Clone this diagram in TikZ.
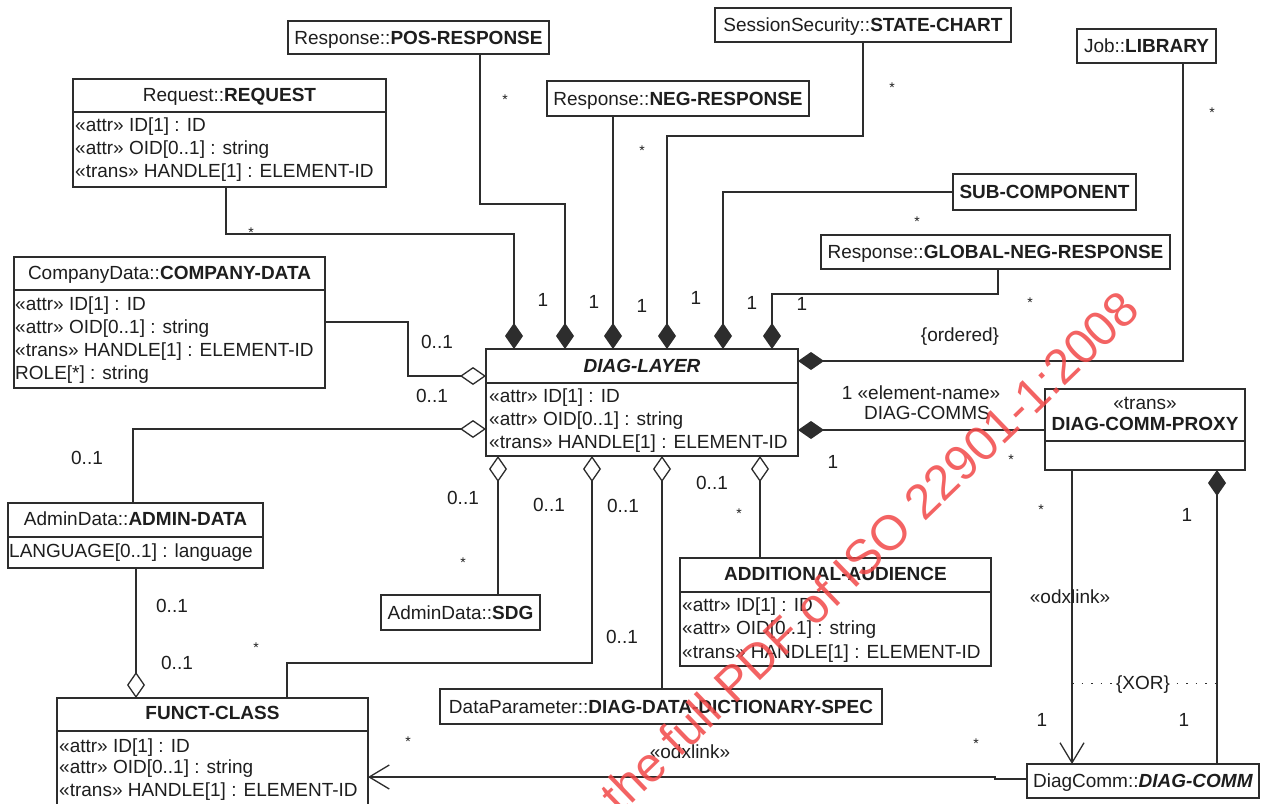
\documentclass[tikz,border=0pt]{standalone}
\usepackage{fontspec}
\setmainfont{Liberation Sans}
\usetikzlibrary{arrows.meta}
\definecolor{tc}{RGB}{30,30,30}
\definecolor{lc}{RGB}{45,45,45}
\definecolor{wmred}{RGB}{242,72,72}
\begin{document}
\begin{tikzpicture}[x=1pt,y=-1pt,
  txt/.style={inner sep=0pt, text height=13.6pt, text depth=0pt, text=tc, font=\fontsize{19}{23}\selectfont},
  cls/.style={draw=lc, line width=1.4pt, fill=white, anchor=north west, inner sep=0pt, outer sep=0pt, txt},
  attr/.style={txt, anchor=west},
  conn/.style={draw=lc, line width=1.3pt},
  comp/.style={conn, -{Diamond[length=26pt,width=18pt]}},
  aggr/.style={conn, -{Diamond[open,length=26pt,width=18pt]}},
  nav/.style={conn, -{Straight Barb[length=20pt,width=24pt]}},
  star/.style={txt, font=\fontsize{14}{14}\selectfont, yshift=-0.5pt},
  divider/.style={draw=lc, line width=1.4pt},
]
\useasboundingbox (0,0) rectangle (1263,803);
\clip (0,0) rectangle (1263,803);
\fill[white] (0,0) rectangle (1263,803);

% ---------- boxes ----------
\node[cls, minimum width=261pt, minimum height=33pt] (POS) at (288,21) {Response::\textbf{POS-RESPONSE}};
\node[cls, minimum width=262pt, minimum height=35pt] (NEG) at (547,81) {Response::\textbf{NEG-RESPONSE}};
\node[cls, minimum width=296pt, minimum height=34pt] (SC) at (715,8) {SessionSecurity::\textbf{STATE-CHART}};
\node[cls, minimum width=139pt, minimum height=34pt] (LIB) at (1077,29) {Job::\textbf{LIBRARY}};
\node[cls, minimum width=183pt, minimum height=36pt] (SUB) at (953,174) {\textbf{SUB-COMPONENT}};
\node[cls, minimum width=349pt, minimum height=34pt] (GNR) at (821,235) {Response::\textbf{GLOBAL-NEG-RESPONSE}};
\node[cls, minimum width=159pt, minimum height=35pt] (SDG) at (381,595) {AdminData::\textbf{SDG}};
\node[cls, minimum width=442pt, minimum height=35pt] (DDDS) at (440,689) {DataParameter::\textbf{DIAG-DATA-DICTIONARY-SPEC}};
\node[cls, minimum width=232pt, minimum height=34pt] (DC) at (1027,764) {DiagComm::\textbf{\textit{DIAG-COMM}}};

% REQUEST
\node[cls, minimum width=313pt, minimum height=108pt] (REQ) at (73,79) {};
\draw[divider] (73,112) -- (386,112);
\node[txt] (REQt) at (229.5,95) {Request::\textbf{REQUEST}};
\node[attr] (REQa1) at (75,125) {«attr» ID[1] : ID};
\node[attr] (REQa2) at (75,148) {«attr» OID[0..1] : string};
\node[attr] (REQa3) at (75,171) {«trans» HANDLE[1] : ELEMENT-ID};

% COMPANY-DATA
\node[cls, minimum width=311pt, minimum height=131pt] (CD) at (14,257) {};
\draw[divider] (14,290) -- (325,290);
\node[txt] (CDt) at (169.5,273) {CompanyData::\textbf{COMPANY-DATA}};
\node[attr] (CDa1) at (15,304) {«attr» ID[1] : ID};
\node[attr] (CDa2) at (15,327) {«attr» OID[0..1] : string};
\node[attr] (CDa3) at (15,350) {«trans» HANDLE[1] : ELEMENT-ID};
\node[attr] (CDa4) at (15,373) {ROLE[*] : string};

% DIAG-LAYER
\node[cls, minimum width=312pt, minimum height=107pt] (DL) at (486,349) {};
\draw[divider] (486,383) -- (798,383);
\node[txt] (DLt) at (642,366) {\textbf{\textit{DIAG-LAYER}}};
\node[attr] (DLa1) at (489,396) {«attr» ID[1] : ID};
\node[attr] (DLa2) at (489,419) {«attr» OID[0..1] : string};
\node[attr] (DLa3) at (489,442) {«trans» HANDLE[1] : ELEMENT-ID};

% DIAG-COMM-PROXY
\node[cls, minimum width=200pt, minimum height=81pt] (PX) at (1045,389) {};
\draw[divider] (1045,441) -- (1245,441);
\node[txt] (PXs) at (1145,403) {«trans»};
\node[txt] (PXt) at (1145,424) {\textbf{DIAG-COMM-PROXY}};

% ADMIN-DATA
\node[cls, minimum width=255pt, minimum height=65pt] (AD) at (8,503) {};
\draw[divider] (8,537) -- (263,537);
\node[txt] (ADt) at (135.5,519) {AdminData::\textbf{ADMIN-DATA}};
\node[attr] (ADa1) at (9,551) {LANGUAGE[0..1] : language};

% ADDITIONAL-AUDIENCE
\node[cls, minimum width=311pt, minimum height=108pt] (AA) at (680,558) {};
\draw[divider] (680,592) -- (991,592);
\node[txt] (AAt) at (835.5,574) {\textbf{ADDITIONAL-AUDIENCE}};
\node[attr] (AAa1) at (682,605) {«attr» ID[1] : ID};
\node[attr] (AAa2) at (682,628) {«attr» OID[0..1] : string};
\node[attr] (AAa3) at (682,652) {«trans» HANDLE[1] : ELEMENT-ID};

% FUNCT-CLASS
\node[cls, minimum width=311pt, minimum height=125pt] (FC) at (57,698) {};
\draw[divider] (57,731) -- (368,731);
\node[txt] (FCt) at (212.5,713) {\textbf{FUNCT-CLASS}};
\node[attr] (FCa1) at (59,746) {«attr» ID[1] : ID};
\node[attr] (FCa2) at (59,767) {«attr» OID[0..1] : string};
\node[attr] (FCa3) at (59,790) {«trans» HANDLE[1] : ELEMENT-ID};

% ---------- connectors: compositions on top of DIAG-LAYER ----------
\draw[comp] (REQ.south -| 226,0) -- (226,234) -- (514,234) -- (DL.north -| 514,0);
\draw[comp] (POS.south -| 480,0) -- (480,204) -- (565,204) -- (DL.north -| 565,0);
\draw[comp] (NEG.south -| 613,0) -- (DL.north -| 613,0);
\draw[comp] (SC.south -| 863,0) -- (863,136) -- (667,136) -- (DL.north -| 667,0);
\draw[comp] (SUB.west |- 0,192) -- (723,192) -- (DL.north -| 723,0);
\draw[comp] (GNR.south -| 998,0) -- (998,294) -- (772,294) -- (DL.north -| 772,0);
\draw[comp] (LIB.south -| 1183,0) -- (1183,361) -- (DL.east |- 0,361);
\draw[comp] (PX.west |- 0,430) -- (DL.east |- 0,430);

% aggregations
\draw[aggr] (CD.east |- 0,322) -- (408,322) -- (408,376) -- (DL.west |- 0,376);
\draw[aggr] (AD.north -| 133,0) -- (133,429) -- (DL.west |- 0,429);
\draw[aggr] (SDG.north -| 498,0) -- (DL.south -| 498,0);
\draw[aggr] (FC.north -| 287,0) -- (287,663) -- (592,663) -- (DL.south -| 592,0);
\draw[aggr] (DDDS.north -| 662,0) -- (DL.south -| 662,0);
\draw[aggr] (AA.north -| 760,0) -- (DL.south -| 760,0);
\draw[aggr] (AD.south -| 136,0) -- (FC.north -| 136,0);

% proxy <-> diag-comm
\draw[nav] (PX.south -| 1072,0) -- (DC.north -| 1072,0);
\draw[comp] (DC.north -| 1217,0) -- (PX.south -| 1217,0);
\draw[nav] (DC.west |- 0,779) -- (995,779) -- (995,777) -- (FC.east |- 0,777);

% XOR constraint
\draw[lc, line width=1pt, dash pattern=on 1.5pt off 8pt] (1072,683) -- (1217,683);
\node[txt, fill=white, inner xsep=2pt] (xor) at (1143,683) {\{XOR\}};

% ---------- labels ----------
\foreach \x/\y in {251/230, 505/97, 642/148, 892/85, 917/219, 1030/300, 1212/110, 1011/457, 1041/507, 463/560, 256/645, 739/511, 976/741, 408/739}
  \node[star] at (\x,\y) {*};
\foreach \x/\y in {543/300, 594/302, 642/306, 696/298, 752/303, 802/304, 833/462, 1187/515, 1042/720, 1184/720}
  \node[txt] at (\x,\y) {1};
\foreach \x/\y in {437/342, 432/396, 87/458, 463/498, 549/505, 623/506, 712/483, 622/637, 172/606, 177/663}
  \node[txt] at (\x,\y) {0..1};
\node[txt] (ord) at (960,335) {\{ordered\}};
\node[txt] (en1) at (921,393) {1 «element-name»};
\node[txt] (en2) at (927,413) {DIAG-COMMS};
\node[txt] (odx1) at (1070,597) {«odxlink»};
\node[txt] (odx2) at (690,752) {«odxlink»};

% ---------- watermark ----------
\node[inner sep=0pt, text=wmred, opacity=0.85, font=\fontsize{49}{49}\selectfont, rotate=44, anchor=base east] (wm) at (1142,312) {the full PDF of ISO 22901-1:2008};
\end{tikzpicture}
\end{document}
